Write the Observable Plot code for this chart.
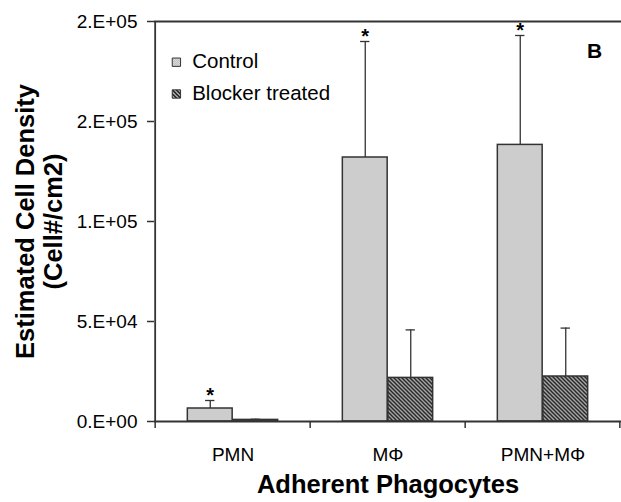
<!DOCTYPE html>
<html><head><meta charset="utf-8">
<script src="https://cdn.jsdelivr.net/npm/d3@7"></script>
<script src="https://cdn.jsdelivr.net/npm/@observablehq/plot@0.6"></script>
<style>
body{margin:0;background:#fff;}
</style></head><body><div id="chart"></div>
<script>
const categories = ["PMN", "MΦ", "PMN+MΦ"];
const seriesNames = ["Control", "Blocker treated"];
const controlMeans = [6500, 132000, 138300];
const controlErrors = [4000, 58000, 54700];
const blockerMeans = [800, 21800, 22500];
const blockerErrors = [300, 24000, 24200];
const controlSignificant = [true, true, true];
const yTicks = [0, 50000, 100000, 150000, 200000];
const yTickLabels = ["0.E+00", "5.E+04", "1.E+05", "2.E+05", "2.E+05"];
const panelLetter = "B";
const xTitle = "Adherent Phagocytes";
const yTitle = "Estimated Cell Density\n(Cell#/cm2)";

const W = 621, H = 502, mL = 154, mR = 0, mT = 21, mB = 81;
const bw = (W - mL - mR) / categories.length;
const barW = 45.5;
const off = barW / 2;
const ink = "#333";

const ctrl = categories.map((c, i) => ({cat: c, value: controlMeans[i], top: controlMeans[i] + controlErrors[i], sig: controlSignificant[i]}));
const blk = categories.map((c, i) => ({cat: c, value: blockerMeans[i], top: blockerMeans[i] + blockerErrors[i]}));

const ctrlFill = "url(#ctrlPat)", blkFill = "url(#blkPat)";

const chart = Plot.plot({
  width: W, height: H,
  marginLeft: mL, marginRight: mR, marginTop: mT, marginBottom: mB,
  style: {fontFamily: "'Liberation Sans', Arial, sans-serif", fontSize: "19px", background: "#fff", color: "#000"},
  x: {domain: categories, padding: 0},
  y: {domain: [0, 200000]},
  marks: [
    Plot.barY(ctrl, {x: "cat", y: "value", fill: ctrlFill, stroke: ink, strokeWidth: 1.5, insetLeft: bw / 2 - barW, insetRight: bw / 2}),
    Plot.barY(blk, {x: "cat", y: "value", fill: blkFill, stroke: ink, strokeWidth: 1.5, insetLeft: bw / 2, insetRight: bw / 2 - barW}),
    Plot.ruleX(ctrl, {x: "cat", y1: "value", y2: "top", dx: -off, stroke: ink, strokeWidth: 1.3}),
    Plot.ruleX(blk, {x: "cat", y1: "value", y2: "top", dx: off, stroke: ink, strokeWidth: 1.3}),
    Plot.tickY(ctrl, {x: "cat", y: "top", dx: -off, insetLeft: bw / 2 - 5, insetRight: bw / 2 - 5, stroke: ink, strokeWidth: 1.3}),
    Plot.tickY(blk, {x: "cat", y: "top", dx: off, insetLeft: bw / 2 - 5, insetRight: bw / 2 - 5, stroke: ink, strokeWidth: 1.3}),
    Plot.text(ctrl.filter(d => d.sig), {x: "cat", y: "top", dx: -off, dy: 1, text: () => "*", lineAnchor: "bottom", fontSize: 20, fontWeight: "bold"}),
    // frame lines
    Plot.ruleY([0, 200000], {stroke: ink, strokeWidth: 1.8}),
    Plot.ruleX([categories[0]], {x: d => d, dx: -bw / 2, stroke: ink, strokeWidth: 1.8}),
    // category boundary ticks
    Plot.ruleX(categories, {x: d => d, dx: -bw / 2, y1: 0, y2: 0, insetBottom: -7, stroke: ink, strokeWidth: 1.5}),
    Plot.ruleX([categories[categories.length - 1]], {x: d => d, dx: bw / 2 - 1, y1: 0, y2: 0, insetBottom: -7, stroke: ink, strokeWidth: 1.5}),
    Plot.axisY({ticks: yTicks, tickFormat: d => yTickLabels[yTicks.indexOf(d)], tickSize: 7, tickPadding: 10, fontSize: 19, label: null, stroke: ink, strokeWidth: 1.5}),
    Plot.axisX({tickSize: 0, tickPadding: 25.5, fontSize: 19, label: null}),
    // titles
    Plot.text([yTitle], {frameAnchor: "left", rotate: -90, dx: -115.6, textAnchor: "middle", lineAnchor: "middle", lineHeight: 1.11, fontSize: 25.5, fontWeight: "bold"}),
    Plot.text([xTitle], {frameAnchor: "bottom", dy: 71, textAnchor: "middle", lineAnchor: "bottom", fontSize: 25.5, fontWeight: "bold"}),
    Plot.text([panelLetter], {frameAnchor: "top-right", dx: -27, dy: 36.3, textAnchor: "middle", lineAnchor: "bottom", fontSize: 21, fontWeight: "bold"}),
    // legend
    Plot.dot([seriesNames[0]], {frameAnchor: "top-left", dx: 21.9, dy: 40.7, symbol: "square", r: 4.7, fill: ctrlFill, stroke: ink, strokeWidth: 1}),
    Plot.dot([seriesNames[1]], {frameAnchor: "top-left", dx: 21.9, dy: 72.5, symbol: "square", r: 4.7, fill: blkFill, stroke: ink, strokeWidth: 1}),
    Plot.text([seriesNames[0]], {frameAnchor: "top-left", dx: 37.7, dy: 46.3, text: d => d, textAnchor: "start", lineAnchor: "bottom", fontSize: 20.5}),
    Plot.text([seriesNames[1]], {frameAnchor: "top-left", dx: 37.7, dy: 78, text: d => d, textAnchor: "start", lineAnchor: "bottom", fontSize: 20.5})
  ]
});

d3.select(chart).insert("defs", ":first-child").html(`
  <pattern id="ctrlPat" patternUnits="userSpaceOnUse" width="2" height="2" patternTransform="translate(-0.5,-0.5)">
    <rect width="2" height="2" fill="#f2f2f2"/>
    <rect x="0" y="0" width="1" height="1" fill="#a8a8a8"/>
    <rect x="1" y="1" width="1" height="1" fill="#a8a8a8"/>
  </pattern>
  <pattern id="blkPat" patternUnits="userSpaceOnUse" width="4" height="4" patternTransform="translate(-0.5,-0.5)">
    <rect width="4" height="4" fill="#fff"/>
    <path d="M-1,-1L5,5M-1,3L1,5M3,-1L5,1" stroke="#000" stroke-width="1.6"/>
  </pattern>`);
document.getElementById("chart").appendChild(chart);
</script>
</body></html>
